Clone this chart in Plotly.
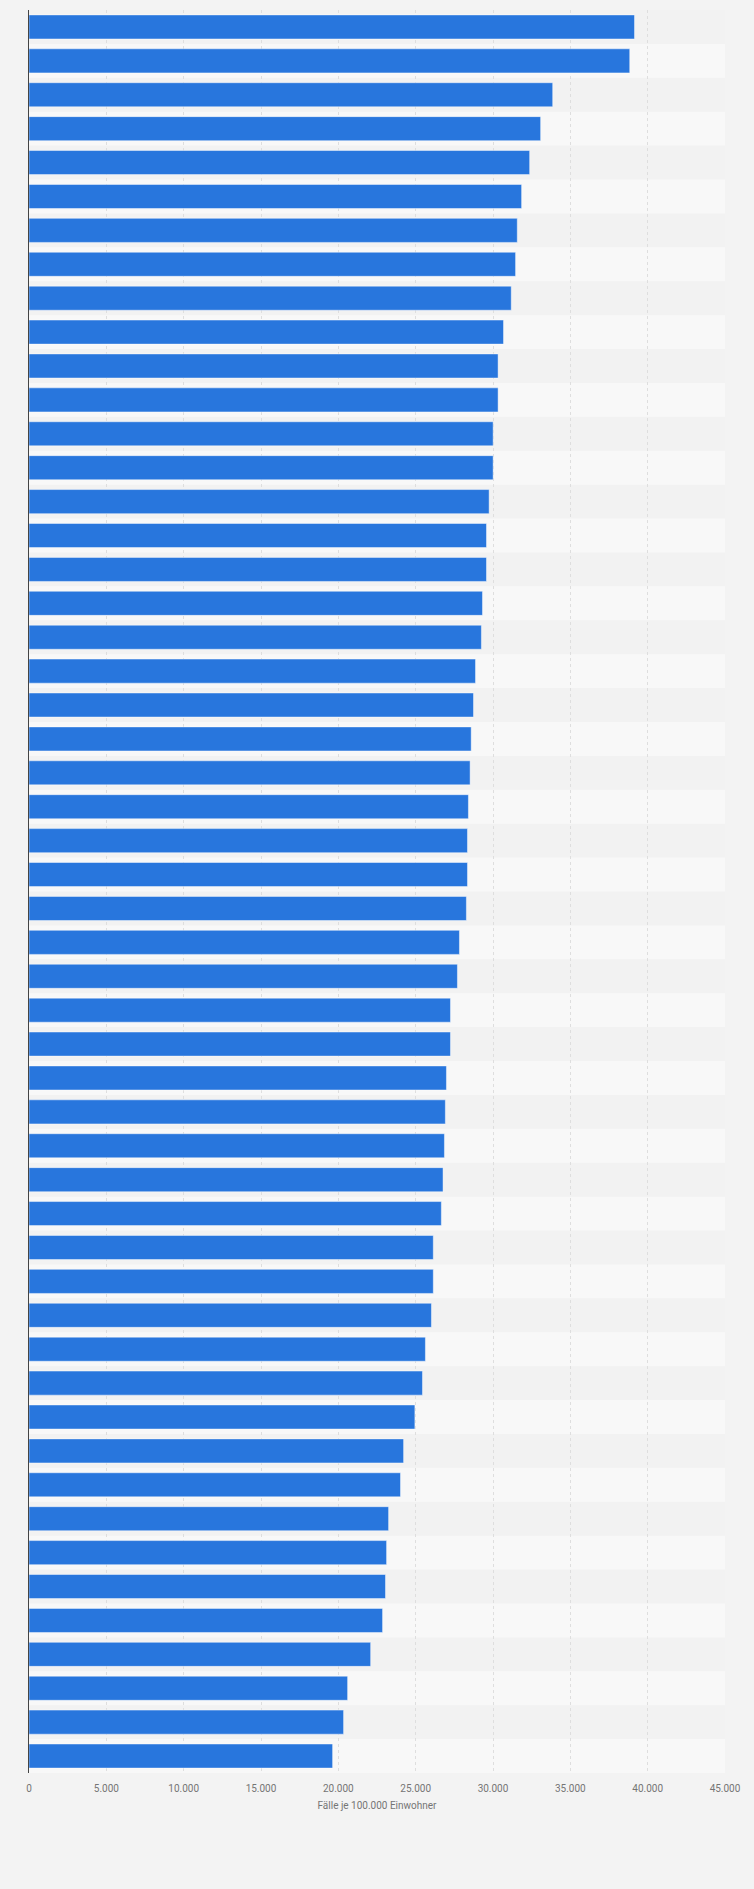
import plotly.graph_objects as go

# Fälle je 100.000 Einwohner (Balken von oben nach unten)
rang = [str(i) for i in range(1, 53)]
faelle = [39150, 38840, 33860, 33080, 32370, 31850, 31570, 31460, 31180, 30680,
          30330, 30330, 30010, 30010, 29750, 29580, 29580, 29320, 29250, 28870,
          28740, 28590, 28520, 28410, 28350, 28350, 28280, 27830, 27700, 27250,
          27250, 26990, 26920, 26860, 26770, 26660, 26140, 26140, 26020, 25630,
          25440, 24950, 24220, 24020, 23250, 23120, 23050, 22860, 22090, 20600,
          20340, 19630]

x_ticks = list(range(0, 45001, 5000))
x_titel = "Fälle je 100.000 Einwohner"

fig = go.Figure()
fig.add_trace(go.Bar(
    x=faelle,
    y=rang,
    orientation="h",
    marker=dict(color="#2876dd", line=dict(color="rgba(255,255,255,0.45)", width=1)),
    hovertemplate="%{x:,d}<extra></extra>",
))

# abwechselnd hellere Zeilen
for i, r in enumerate(rang):
    if i % 2 == 1:
        fig.add_shape(type="rect", xref="x", yref="y",
                      x0=0, x1=45000, y0=i - 0.5, y1=i + 0.5,
                      fillcolor="#f8f8f8", line_width=0, layer="below")

fig.update_layout(
    width=754, height=1889,
    margin={"l": 29, "r": 29, "t": 10, "b": 116},
    paper_bgcolor="#f3f3f3",
    plot_bgcolor="#f2f2f2",
    separators=",.",
    bargap=0.29,
    showlegend=False,
    font=dict(family="Roboto, Liberation Sans, Arial", color="#666666", size=10),
)
fig.update_xaxes(
    range=[0, 45000],
    tickvals=x_ticks,
    tickformat=",d",
    showgrid=True, gridcolor="#dedede", griddash="dot", gridwidth=1,
    zeroline=False,
    tickfont=dict(size=10, color="#757575"),
    title=dict(text=x_titel, font=dict(size=10, color="#757575"), standoff=8),
    ticks="", ticklabelstandoff=8,
)
fig.update_yaxes(
    autorange="reversed",
    showticklabels=False,
    showgrid=False,
    showline=True, linecolor="#444444", linewidth=1,
    ticks="",
)

# Seitenrand des Browsers entfernen, keine Modebar
fig.write_html("out.html",
               config={"displayModeBar": False},
               post_script="document.body.style.margin='0';document.body.style.overflow='hidden';"
                           "document.body.style.background='#f3f3f3';")
